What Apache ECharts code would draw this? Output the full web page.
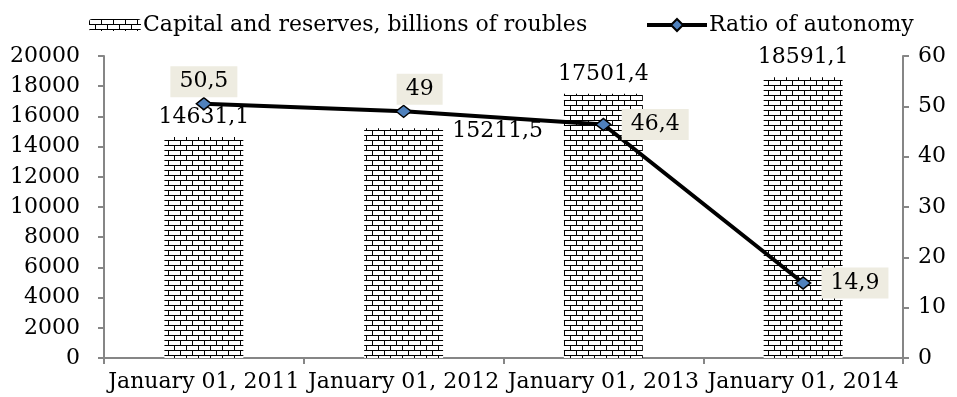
<!DOCTYPE html>
<html>
<head>
<meta charset="utf-8">
<script src="https://cdn.jsdelivr.net/npm/echarts@6/dist/echarts.min.js"></script>
<style>
  html, body { margin: 0; padding: 0; background: #fff; }
  #chart { width: 957px; height: 397px; }
</style>
</head>
<body>
<div id="chart"></div>
<script>
// Balance-sheet figures, start of each year
const categories = ['January 01, 2011', 'January 01, 2012', 'January 01, 2013', 'January 01, 2014'];
const capital = [14631.1, 15211.5, 17501.4, 18591.1];   // billions of roubles
const autonomy = [50.5, 49, 46.4, 14.9];                 // ratio of autonomy, %
const leftTicks = { min: 0, max: 20000, interval: 2000 };
const rightTicks = { min: 0, max: 60, interval: 10 };

const FONT = 'DejaVu Serif';
const FONT_SIZE = 22;
const AXIS_GREY = '#868686';

// Brick hatch used to fill the bars
function brickPattern() {
  const c = document.createElement('canvas');
  c.width = 12; c.height = 10;
  const g = c.getContext('2d');
  g.fillStyle = '#fff';
  g.fillRect(0, 0, 12, 10);
  g.fillStyle = '#000';
  g.fillRect(0, 0, 12, 1);
  g.fillRect(0, 5, 12, 1);
  g.fillRect(0, 0, 1, 5);
  g.fillRect(6, 5, 1, 5);
  return { image: c, repeat: 'repeat' };
}

const fmt = v => String(v).replace('.', ',');

// label placement for each bar / point
const barLabelOffsets = [[0, -4], [94, 19], [0, -3], [0, -4]];
const lineLabelPlace = [
  { position: 'top', distance: 0, offset: [0, 0] },
  { position: 'top', distance: 0, offset: [16, 0] },
  { position: 'right', distance: 10, offset: [0, 0] },
  { position: 'right', distance: 10, offset: [0, 0] }
];

const chart = echarts.init(document.getElementById('chart'), null, { renderer: 'canvas' });

const textBase = { fontFamily: FONT, fontSize: FONT_SIZE, color: '#000' };

chart.setOption({
  animation: false,
  backgroundColor: '#fff',
  textStyle: { fontFamily: FONT },
  grid: { left: 104, right: 54, top: 56, bottom: 39, containLabel: false },
  legend: [
    {
      data: ['Capital and reserves, billions of roubles'],
      left: 84, top: 9,
      itemWidth: 52, itemHeight: 12, itemGap: 4,
      textStyle: Object.assign({}, textBase, { padding: [0, 0, 0, -3] })
    },
    {
      data: ['Ratio of autonomy'],
      left: 640, top: 9,
      itemWidth: 60, itemHeight: 15,
      lineStyle: { color: '#000', width: 4 },
      textStyle: Object.assign({}, textBase, { padding: [0, 0, 0, -3] })
    }
  ],
  xAxis: {
    type: 'category',
    data: categories,
    axisLine: { lineStyle: { color: AXIS_GREY, width: 2 } },
    axisTick: { show: true, length: 6, lineStyle: { color: AXIS_GREY, width: 2 } },
    axisLabel: Object.assign({}, textBase, { margin: 13, interval: 0 }),
    splitLine: { show: false }
  },
  yAxis: [
    {
      type: 'value',
      min: leftTicks.min, max: leftTicks.max, interval: leftTicks.interval,
      axisLine: { show: true, lineStyle: { color: AXIS_GREY, width: 2 } },
      axisTick: { show: true, length: 6, lineStyle: { color: AXIS_GREY, width: 2 } },
      axisLabel: Object.assign({}, textBase, { margin: 24, formatter: v => String(v) }),
      splitLine: { show: false }
    },
    {
      type: 'value',
      position: 'right',
      min: rightTicks.min, max: rightTicks.max, interval: rightTicks.interval,
      axisLine: { show: true, lineStyle: { color: AXIS_GREY, width: 2 } },
      axisTick: { show: true, length: 6, lineStyle: { color: AXIS_GREY, width: 2 } },
      axisLabel: Object.assign({}, textBase, { margin: 15, formatter: v => String(v) }),
      splitLine: { show: false }
    }
  ],
  series: [
    {
      name: 'Capital and reserves, billions of roubles',
      type: 'bar',
      yAxisIndex: 0,
      barWidth: '39.5%',
      itemStyle: { color: brickPattern() },
      data: capital.map((v, i) => ({
        value: v,
        label: {
          show: true,
          position: 'top',
          distance: 5,
          offset: barLabelOffsets[i],
          formatter: p => p.value.toFixed(1).replace('.', ','),
          fontFamily: FONT, fontSize: FONT_SIZE, color: '#000'
        }
      })),
      z: 2
    },
    {
      name: 'Ratio of autonomy',
      type: 'line',
      yAxisIndex: 1,
      symbol: 'diamond',
      symbolSize: [15, 12],
      lineStyle: { color: '#000', width: 4 },
      itemStyle: { color: '#4F81BD', borderColor: '#000', borderWidth: 1.5 },
      data: autonomy.map((v, i) => ({
        value: v,
        label: Object.assign({
          show: true,
          formatter: p => fmt(p.value),
          fontFamily: FONT, fontSize: FONT_SIZE, color: '#000',
          backgroundColor: '#EEECE1',
          padding: [4, 9],
          lineHeight: 23
        }, lineLabelPlace[i])
      })),
      z: 5
    }
  ]
});
</script>
</body>
</html>
